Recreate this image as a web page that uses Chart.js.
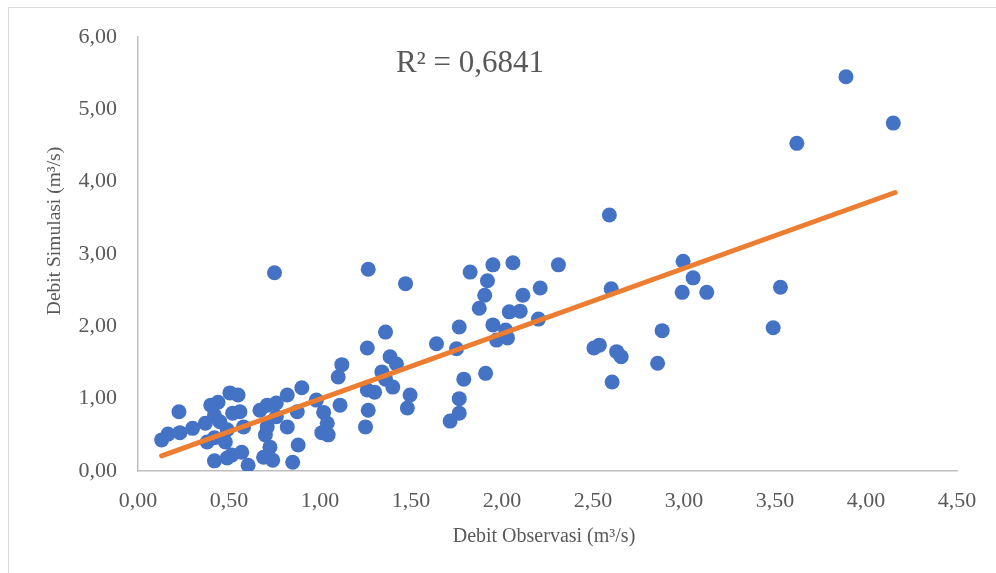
<!DOCTYPE html>
<html>
<head>
<meta charset="utf-8">
<script src="https://cdn.jsdelivr.net/npm/chart.js@4/dist/chart.umd.min.js"></script>
<style>
  html, body { margin: 0; padding: 0; background: #ffffff; overflow: hidden; }
  #wrap { position: relative; width: 996px; height: 573px; }
  #frame { position: absolute; left: 8px; top: 7px; width: 1010px; height: 600px; border: 1px solid #d9d9d9; box-sizing: border-box; pointer-events: none; }
  canvas { position: absolute; left: 0; top: 0; }
</style>
</head>
<body>
<div id="wrap">
  <div id="frame"></div>
  <canvas id="c" width="996" height="573"></canvas>
</div>
<script>
// Observed discharge (x) and simulated discharge (y), m3/s
const obsX = [
  0.13,0.165,0.23,0.225,0.30,0.37,0.38,0.40,0.44,0.505,0.55,0.42,0.49,0.515,0.57,0.605,0.42,0.45,0.52,0.56,0.49,0.42,0.48,0.58,
  0.71,0.67,0.82,0.90,0.98,1.02,0.76,0.82,0.70,0.725,0.69,0.74,0.85,0.88,1.01,1.045,0.76,0.71,1.04,0.875,
  1.12,1.10,1.26,1.385,1.42,1.34,1.36,1.40,1.26,1.30,1.495,1.48,1.11,1.265,1.25,1.36,1.265,0.75,1.47,
  1.64,1.765,1.75,1.79,1.91,1.765,1.765,1.715,1.825,1.95,2.06,2.31,1.92,1.905,1.875,2.115,2.21,2.04,2.10,2.20,1.95,2.02,1.97,2.03,
  2.59,2.60,2.995,3.05,2.99,3.125,3.53,2.88,3.49,2.505,2.535,2.63,2.655,2.855,2.605,3.89,4.15,3.62
];
const simY = [
  0.43,0.51,0.53,0.82,0.59,0.66,0.40,0.91,0.95,1.08,1.05,0.14,0.18,0.22,0.26,0.08,0.77,0.68,0.80,0.82,0.57,0.46,0.40,0.61,
  0.91,0.84,1.05,1.15,0.98,0.81,0.75,0.61,0.50,0.33,0.19,0.15,0.12,0.36,0.53,0.50,0.94,0.61,0.66,0.82,
  1.47,1.30,1.70,1.58,1.48,1.37,1.27,1.16,1.12,1.09,1.05,0.87,0.91,0.84,0.61,1.92,2.79,2.74,2.59,
  1.76,1.99,1.69,1.27,1.35,1.00,0.80,0.69,2.75,2.85,2.88,2.85,2.63,2.43,2.25,2.43,2.53,2.20,2.21,2.10,2.02,1.95,1.81,1.84,
  3.54,2.52,2.90,2.67,2.47,2.47,2.54,1.94,1.98,1.70,1.74,1.65,1.58,1.49,1.23,5.45,4.81,4.53
];
// Linear trendline end points
const trendX = [0.13, 4.16];
const trendY = [0.21, 3.85];
const xTicks = [0,0.5,1,1.5,2,2.5,3,3.5,4,4.5];
const yTicks = [0,1,2,3,4,5,6];
const xTitle = 'Debit Observasi (m³/s)';
const yTitle = 'Debit Simulasi (m³/s)';
const r2Label = 'R² = 0,6841';

const fmt = v => v.toFixed(2).replace('.', ',');
const serif = '"Liberation Serif", "Times New Roman", serif';
const grayText = '#595959';

const overlay = {
  id: 'overlay',
  afterDraw(chart) {
    const ctx = chart.ctx;
    ctx.save();
    ctx.fillStyle = grayText;
    ctx.textAlign = 'center';
    ctx.textBaseline = 'middle';
    ctx.font = '20px ' + serif;
    ctx.fillText(xTitle, 544, 537);
    ctx.save();
    ctx.translate(55, 231);
    ctx.rotate(-Math.PI / 2);
    ctx.font = '19.5px ' + serif;
    ctx.fillText(yTitle, 0, 0);
    ctx.restore();
    ctx.font = '31px ' + serif;
    ctx.textAlign = 'center';
    ctx.textBaseline = 'alphabetic';
    ctx.fillText(r2Label, 470, 72);
    ctx.restore();
  }
};

new Chart(document.getElementById('c'), {
  type: 'scatter',
  data: {
    datasets: [
      {
        type: 'line',
        data: trendX.map((x, i) => ({x, y: trendY[i]})),
        borderColor: '#ED7D31',
        borderWidth: 5,
        borderCapStyle: 'round',
        pointRadius: 0,
        fill: false
      },
      {
        data: obsX.map((x, i) => ({x, y: simY[i]})),
        backgroundColor: '#4472C4',
        borderColor: '#4472C4',
        borderWidth: 0,
        pointRadius: 7.5,
        pointHoverRadius: 7.5
      }
    ]
  },
  options: {
    responsive: false,
    animation: false,
    events: [],
    layout: { padding: { left: 0, top: 37, right: 39, bottom: 0 } },
    plugins: { legend: { display: false }, tooltip: { enabled: false } },
    scales: {
      x: {
        type: 'linear', min: 0, max: 4.5,
        afterFit(s) { s.height = 102; },
        afterBuildTicks(s) { s.ticks = xTicks.map(v => ({value: v})); },
        grid: { display: false, drawTicks: false },
        border: { display: true, color: '#bfbfbf', width: 1.5 },
        ticks: { callback: v => fmt(v), color: grayText, font: { family: serif, size: 22 }, padding: 17, maxRotation: 0, autoSkip: false }
      },
      y: {
        type: 'linear', min: 0, max: 6,
        afterFit(s) { s.width = 138; },
        afterBuildTicks(s) { s.ticks = yTicks.map(v => ({value: v})); },
        grid: { display: false, drawTicks: false },
        border: { display: true, color: '#bfbfbf', width: 1.5 },
        ticks: { callback: v => fmt(v), color: grayText, font: { family: serif, size: 22 }, padding: 21 }
      }
    }
  },
  plugins: [overlay]
});
</script>
</body>
</html>
